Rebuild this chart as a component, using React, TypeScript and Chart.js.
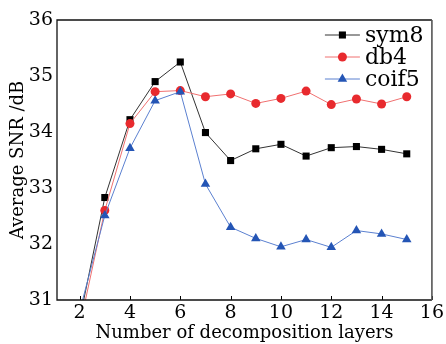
import React, { useEffect, useRef } from "react";
import { Chart, registerables } from "chart.js";

Chart.register(...registerables);

const layers = [2, 3, 4, 5, 6, 7, 8, 9, 10, 11, 12, 13, 14, 15];
const sym8 = [30.65, 32.83, 34.22, 34.9, 35.25, 33.99, 33.49, 33.7, 33.78, 33.57, 33.72, 33.74, 33.69, 33.61];
const db4 = [30.52, 32.6, 34.15, 34.72, 34.74, 34.63, 34.68, 34.51, 34.6, 34.73, 34.49, 34.59, 34.5, 34.63];
const coif5 = [30.8, 32.51, 33.71, 34.56, 34.72, 33.07, 32.3, 32.1, 31.95, 32.08, 31.94, 32.24, 32.18, 32.08];
const seriesNames = ["sym8", "db4", "coif5"];
const xTicks = [2, 4, 6, 8, 10, 12, 14, 16];
const yTicks = [31, 32, 33, 34, 35, 36];

const FONT = "'DejaVu Serif', serif";

const markerDraw = (ctx: CanvasRenderingContext2D, style: string, x: number, y: number, r: number) => {
  ctx.beginPath();
  if (style === "rect") {
    const s = Math.SQRT1_2 * r;
    ctx.rect(x - s, y - s, 2 * s, 2 * s);
  } else if (style === "triangle") {
    ctx.moveTo(x, y - r);
    ctx.lineTo(x + r * Math.cos(Math.PI / 6), y + r * 0.5);
    ctx.lineTo(x - r * Math.cos(Math.PI / 6), y + r * 0.5);
    ctx.closePath();
  } else {
    ctx.arc(x, y, r, 0, Math.PI * 2);
  }
  ctx.fill();
};

const framePlugin = {
  id: "frame",
  afterDatasetsDraw(chart: any) {
    const { ctx, chartArea } = chart;
    const xs = chart.scales.x;
    ctx.save();
    ctx.strokeStyle = "#000";
    ctx.lineWidth = 1;
    xTicks.forEach((t) => {
      const px = Math.round(xs.getPixelForValue(t)) + 0.5;
      ctx.beginPath();
      ctx.moveTo(px, chartArea.bottom);
      ctx.lineTo(px, chartArea.bottom - 4);
      ctx.stroke();
    });
    ctx.lineWidth = 1.3;
    ctx.strokeStyle = "#111";
    ctx.beginPath();
    ctx.moveTo(chartArea.right, chartArea.top);
    ctx.lineTo(chartArea.left, chartArea.top);
    ctx.lineTo(chartArea.left, chartArea.bottom);
    ctx.lineTo(chartArea.right, chartArea.bottom);
    ctx.stroke();
    ctx.strokeStyle = "#555";
    ctx.lineWidth = 1.6;
    ctx.beginPath();
    ctx.moveTo(chartArea.right, chartArea.top);
    ctx.lineTo(chartArea.right, chartArea.bottom);
    ctx.stroke();
    ctx.font = "22px " + FONT;
    ctx.textBaseline = "middle";
    ctx.textAlign = "left";
    chart.data.datasets.forEach((ds: any, i: number) => {
      const y = chartArea.top + 15 + i * 22;
      const x0 = chartArea.right - 107;
      ctx.strokeStyle = ds.borderColor;
      ctx.lineWidth = 1;
      ctx.beginPath();
      ctx.moveTo(x0, y);
      ctx.lineTo(x0 + 35, y);
      ctx.stroke();
      ctx.fillStyle = ds.pointBackgroundColor;
      markerDraw(ctx, ds.pointStyle, x0 + 17.5, y, ds.pointRadius);
      ctx.fillStyle = "#000";
      ctx.fillText(ds.label, x0 + 40, y + 1);
    });
    ctx.restore();
  },
};

export default function App() {
  const ref = useRef<HTMLCanvasElement>(null);
  useEffect(() => {
    document.body.style.margin = "0";
    const chart = new Chart(ref.current!, {
      type: "line",
      data: {
        labels: layers,
        datasets: [
          {
            label: seriesNames[0],
            data: layers.map((x, i) => ({ x, y: sym8[i] })),
            borderColor: "#333333",
            borderWidth: 1,
            pointStyle: "rect",
            pointRadius: 5,
            pointBackgroundColor: "#000000",
            pointBorderWidth: 0,
            order: 3,
          },
          {
            label: seriesNames[1],
            data: layers.map((x, i) => ({ x, y: db4[i] })),
            borderColor: "#f07070",
            borderWidth: 1,
            pointStyle: "circle",
            pointRadius: 4.5,
            pointBackgroundColor: "#e82a2e",
            pointBorderWidth: 0,
            order: 2,
          },
          {
            label: seriesNames[2],
            data: layers.map((x, i) => ({ x, y: coif5[i] })),
            borderColor: "#5b80d0",
            borderWidth: 1,
            pointStyle: "triangle",
            pointRadius: 5.5,
            pointBackgroundColor: "#2455b5",
            pointBorderWidth: 0,
            order: 1,
          },
        ] as any,
      },
      options: {
        responsive: false,
        animation: false,
        layout: { padding: { top: 20, right: 12, left: 0, bottom: 0 } },
        plugins: { legend: { display: false }, tooltip: { enabled: false } },
        scales: {
          x: {
            type: "linear",
            min: 1.1,
            max: 16,
            afterBuildTicks: (s: any) => {
              s.ticks = xTicks.map((v) => ({ value: v }));
            },
            afterFit: (s: any) => {
              s.height = 44;
            },
            grid: { display: false, drawTicks: false },
            border: { display: false },
            ticks: { color: "#000", font: { family: FONT, size: 19 }, padding: 2 },
            title: {
              display: true,
              text: "Number of decomposition layers",
              color: "#000",
              font: { family: FONT, size: 18 },
              padding: { top: 0, bottom: 0 },
            },
          },
          y: {
            min: 31,
            max: 36,
            afterBuildTicks: (s: any) => {
              s.ticks = yTicks.map((v) => ({ value: v }));
            },
            afterFit: (s: any) => {
              s.width = 57;
            },
            grid: { display: false, drawTicks: false },
            border: { display: false },
            ticks: { color: "#000", font: { family: FONT, size: 19 }, padding: 4 },
            title: {
              display: true,
              text: "Average SNR /dB",
              color: "#000",
              font: { family: FONT, size: 18 },
              padding: { top: 8, bottom: 0 },
            },
          },
        },
      } as any,
      plugins: [framePlugin],
    });
    return () => chart.destroy();
  }, []);
  return (
    <div style={{ position: "fixed", left: 0, top: 0, width: 446, height: 344, background: "#fff" }}>
      <canvas ref={ref} width={446} height={344} />
    </div>
  );
}
